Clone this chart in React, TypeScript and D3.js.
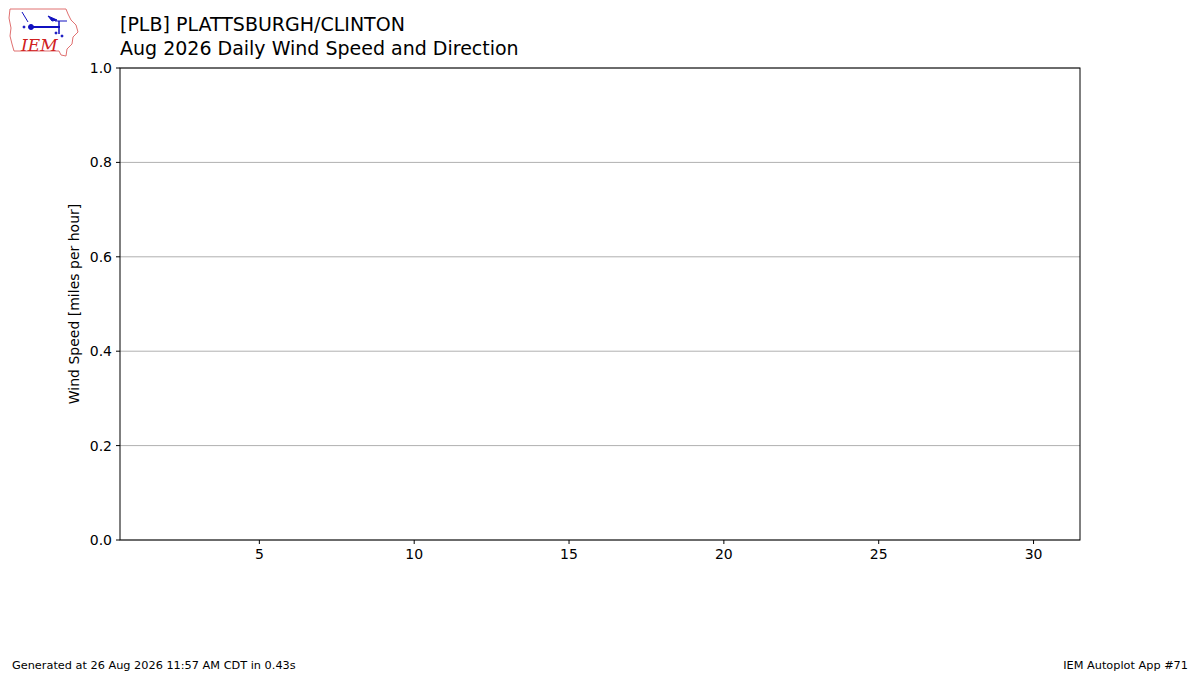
import * as d3 from 'd3'
import React from 'react'

const titleLines = ['[PLB] PLATTSBURGH/CLINTON', 'Aug 2026 Daily Wind Speed and Direction']
const yTicks = [0, 0.2, 0.4, 0.6, 0.8, 1.0]
const xTicks = [5, 10, 15, 20, 25, 30]
const yLabel = 'Wind Speed [miles per hour]'
const footerLeft = 'Generated at 26 Aug 2026 11:57 AM CDT in 0.43s'
const footerRight = 'IEM Autoplot App #71'

const W = 1200
const H = 675
const left = 120
const right = 1080
const top = 68
const bottom = 540
const font = 'DejaVu Sans, sans-serif'

const Logo = () => (
  <g>
    {/* rough Iowa outline */}
    <path
      d="M10,9 L66,9 L68,14 L71,20 L76,25 L78,32 L73,37 L72,44 L67,49 L66,56 L61,55 L59,51 L14,51 L12,44 L10,36 L11,28 L9,18 Z"
      fill="none"
      stroke="#e07070"
      strokeWidth={1}
    />
    <g stroke="#1010c0" fill="#1010c0">
      <line x1={31} y1={27} x2={60} y2={27} strokeWidth={2} />
      <circle cx={31} cy={27} r={2.5} />
      <path d="M48,16 L57,20 L52,21 Z" />
      <line x1={59} y1={21} x2={59} y2={34} strokeWidth={1.5} />
      <line x1={55} y1={21} x2={67} y2={21} strokeWidth={1} />
      <line x1={22} y1={12} x2={28} y2={22} strokeWidth={1} />
      <circle cx={24} cy={27} r={1} />
      <circle cx={56} cy={33} r={1} />
      <circle cx={62} cy={36} r={1} />
    </g>
    <text x={21} y={51} fill="#d02020" fontFamily="DejaVu Serif, serif" fontStyle="italic" fontSize={17}>
      IEM
    </text>
  </g>
)

const App = () => {
  const x = d3.scaleLinear().domain([0.5, 31.5]).range([left, right])
  const y = d3.scaleLinear().domain([0, 1]).range([bottom, top])

  return (
    <svg
      width={W}
      height={H}
      style={{ position: 'absolute', left: 0, top: 0, background: '#fff' }}
      fontFamily={font}
    >
      <rect width={W} height={H} fill="#fff" />
      <Logo />
      {titleLines.map((t, i) => (
        <text key={t} x={120} y={31 + i * 24} fontSize={19} fill="#000">
          {t}
        </text>
      ))}

      {/* grid */}
      {yTicks.map((v) => (
        <line key={'g' + v} x1={left} x2={right} y1={y(v)} y2={y(v)} stroke="#b0b0b0" strokeWidth={1} />
      ))}

      {/* frame */}
      <rect x={left} y={top} width={right - left} height={bottom - top} fill="none" stroke="#000" strokeWidth={1} />

      {/* y axis */}
      {yTicks.map((v) => (
        <g key={'y' + v}>
          <line x1={left - 4} x2={left} y1={y(v)} y2={y(v)} stroke="#000" />
          <text x={left - 8} y={y(v)} dy="0.35em" textAnchor="end" fontSize={14} fill="#000">
            {v.toFixed(1)}
          </text>
        </g>
      ))}
      <text
        transform={`translate(79,${(top + bottom) / 2}) rotate(-90)`}
        textAnchor="middle"
        fontSize={14}
        fill="#000"
      >
        {yLabel}
      </text>

      {/* x axis */}
      {xTicks.map((v) => (
        <g key={'x' + v}>
          <line x1={x(v)} x2={x(v)} y1={bottom} y2={bottom + 4} stroke="#000" />
          <text x={x(v)} y={bottom + 19} textAnchor="middle" fontSize={14} fill="#000">
            {v}
          </text>
        </g>
      ))}

      <text x={12} y={669} fontSize={11.3} fill="#000">
        {footerLeft}
      </text>
      <text x={1188} y={669} fontSize={11.3} textAnchor="end" fill="#000">
        {footerRight}
      </text>
    </svg>
  )
}

export default App
